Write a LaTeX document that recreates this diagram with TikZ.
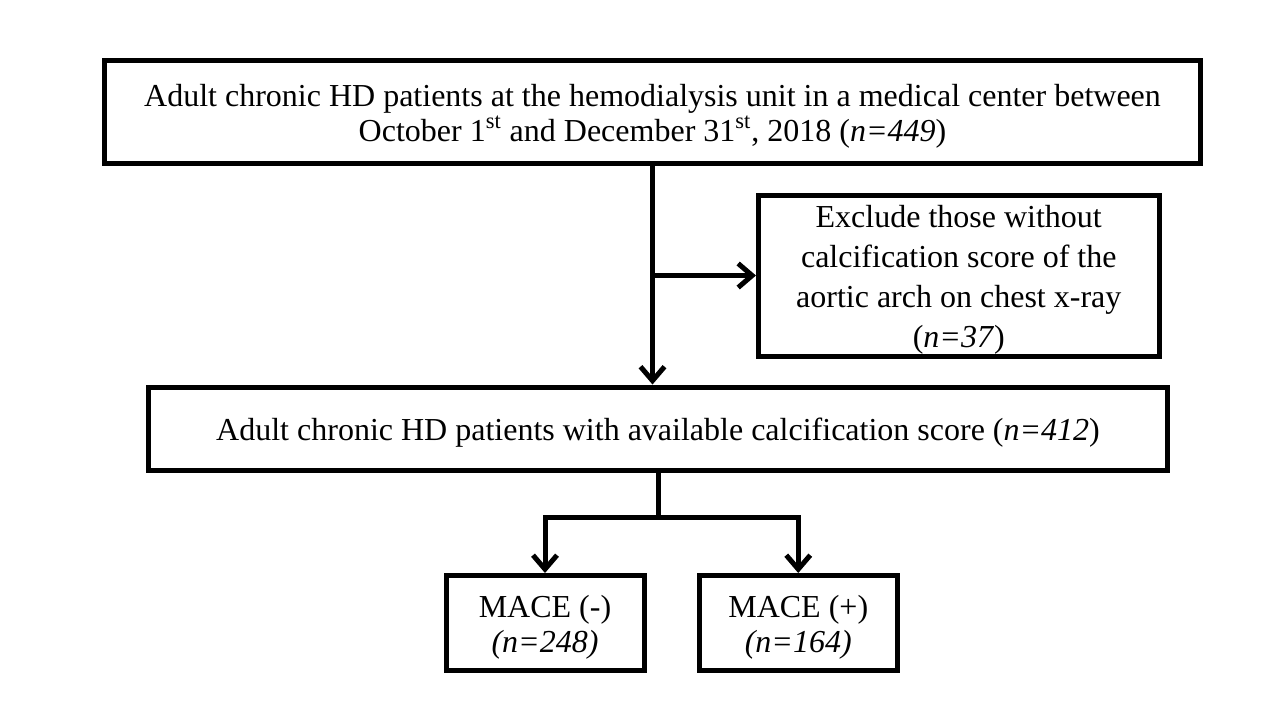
\documentclass[tikz,border=0pt]{standalone}
\usepackage{fontspec}
\setmainfont{Liberation Serif}
\usetikzlibrary{arrows.meta,positioning}

\newcommand{\toppad}{\rule{0pt}{15pt}}

\begin{document}
\begin{tikzpicture}[x=0.5pt,y=-0.5pt,
    box/.style={draw,line width=2.5pt,align=center,inner sep=0pt,
        font=\fontsize{16}{17.5}\selectfont},
    arr/.style={line width=2.5pt,-{Straight Barb[length=7pt,width=12pt]}}]
    \useasboundingbox (0,0) rectangle (1280,720);

    % boxes
    \node[box,minimum width=548pt,minimum height=51.5pt] (top) at (652.5,112)
        {\toppad Adult chronic HD patients at the hemodialysis unit in a medical center between\\
         October 1\textsuperscript{st} and December 31\textsuperscript{st}, 2018 (\textit{n=449})};
    \node[box,minimum width=200.25pt,minimum height=80.5pt,
        font=\fontsize{16}{20}\selectfont] (excl) at (958.75,275.5)
        {\toppad Exclude those without\\calcification score of the\\aortic arch on chest x-ray\\(\textit{n=37})};
    \node[box,minimum width=509.5pt,minimum height=41.5pt] (mid) at (658,428.5)
        {\toppad Adult chronic HD patients with available calcification score (\textit{n=412})};
    \node[box,minimum width=99pt,minimum height=47.5pt] (neg) at (545,623)
        {\toppad MACE (-)\\\textit{(n=248)}};
    \node[box,minimum width=99.25pt,minimum height=47.5pt] (pos) at (798.25,623)
        {\toppad MACE (+)\\\textit{(n=164)}};

    % connectors
    \draw[arr] (top.south) -- (top.south |- mid.north);
    \draw[arr] (top.south |- excl.west) -- (excl.west);
    \coordinate (split) at (658,517.5);
    \draw[line width=2.5pt] (mid.south) -- (split);
    \draw[arr] (split) -| (neg.north);
    \draw[arr] (split) -| (pos.north);
\end{tikzpicture}
\end{document}
